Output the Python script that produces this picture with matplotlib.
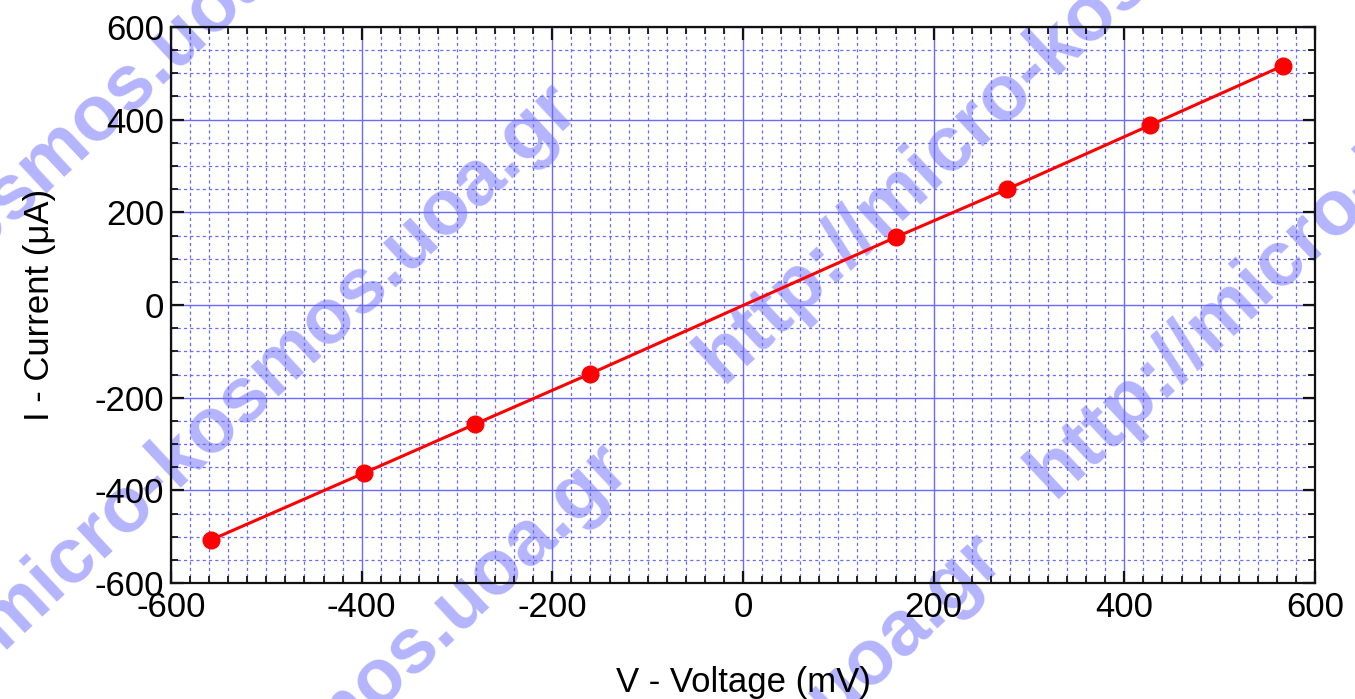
import matplotlib
matplotlib.use("Agg")
import matplotlib.pyplot as plt
from matplotlib.ticker import MultipleLocator
import numpy as np

voltage = [-558, -398, -281, -161, 161, 277, 427, 566]   # mV
current = [-507, -363, -257, -149, 147, 250, 388, 516]   # uA

xlabel = "V - Voltage (mV)"
ylabel = "I - Current (\u03bcA)"
watermark = "http://micro-kosmos.uoa.gr"

plt.rcParams['font.family'] = ['Liberation Sans', 'DejaVu Sans']
plt.rcParams['axes.unicode_minus'] = False

W, H = 1355, 699
fig = plt.figure(figsize=(W / 100, H / 100), dpi=100)
ax = fig.add_axes([171 / W, 1 - 583 / H, (1315 - 171) / W, (583 - 27) / H])
ax.set_facecolor('none')

# watermark behind everything (start points in image pixels)
wm_starts = [(-175, 775), (-407, 572), (703, 363), (-124, 1135), (1034, 478), (250, 1225)]
for sx, sy in wm_starts:
    fig.text(sx / W, 1 - sy / H, watermark, fontsize=56, fontweight='bold',
             color='#b4b4ff', rotation=43, rotation_mode='anchor',
             ha='left', va='center_baseline', zorder=-5)

ax.plot(voltage, current, color='#ff0000', lw=2.2, marker='o', ms=12,
        markeredgecolor='#ff0000', zorder=5)

ax.set_xlim(-600, 600)
ax.set_ylim(-600, 600)
ax.xaxis.set_major_locator(MultipleLocator(200))
ax.xaxis.set_minor_locator(MultipleLocator(20))
ax.yaxis.set_major_locator(MultipleLocator(200))
ax.yaxis.set_minor_locator(MultipleLocator(50))

ax.grid(which='major', color='#6a6aff', lw=1.0, ls='-')
ax.grid(which='minor', color='#6a6aff', lw=0.9, ls=(0, (2.5, 2.5)))
ax.set_axisbelow(True)

for s in ax.spines.values():
    s.set_linewidth(1.6)
    s.set_color('#111111')

ax.tick_params(which='both', direction='in', top=True, right=True,
               color='#111111', labelsize=25)
ax.tick_params(which='major', length=9, width=1.6)
ax.tick_params(which='minor', length=5, width=1.3)
ax.tick_params(axis='x', pad=6)
ax.tick_params(axis='y', pad=5)

ax.set_xlabel(xlabel, fontsize=25, labelpad=30)
ax.set_ylabel(ylabel, fontsize=25, labelpad=28)

fig.savefig('out.png', dpi=100)
